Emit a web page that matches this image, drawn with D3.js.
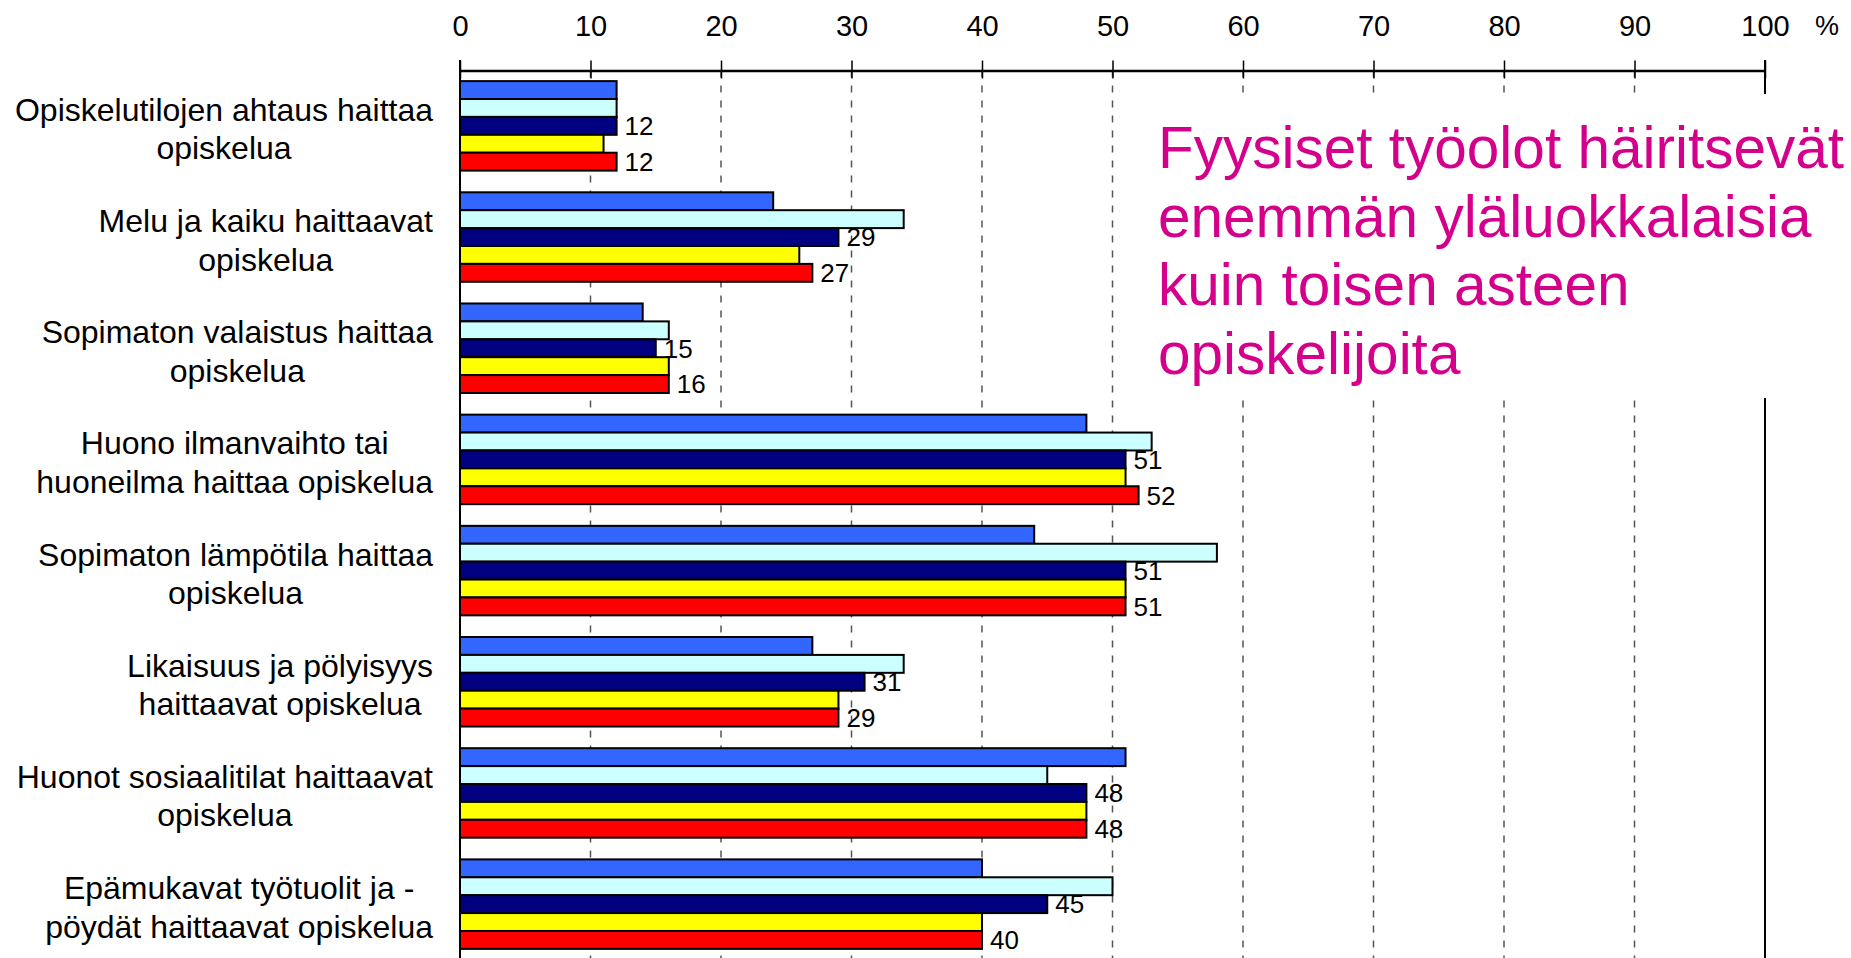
<!DOCTYPE html>
<html>
<head>
<meta charset="utf-8">
<script src="https://cdn.jsdelivr.net/npm/d3@7"></script>
<style>
  body { margin:0; background:#fff; }
  svg { display:block; font-family:"Liberation Sans", Arial, sans-serif; }
</style>
</head>
<body>
<svg id="chart" width="1851" height="958"></svg>
<script>
// categories, two lines each as in the original
var categories = [
  ["Opiskelutilojen ahtaus haittaa", "opiskelua"],
  ["Melu ja kaiku haittaavat", "opiskelua"],
  ["Sopimaton valaistus haittaa", "opiskelua"],
  ["Huono ilmanvaihto tai", "huoneilma haittaa opiskelua"],
  ["Sopimaton lämpötila haittaa", "opiskelua"],
  ["Likaisuus ja pölyisyys", "haittaavat opiskelua"],
  ["Huonot sosiaalitilat haittaavat", "opiskelua"],
  ["Epämukavat työtuolit ja -", "pöydät haittaavat opiskelua"]
];

var seriesNames = ["sarja1", "sarja2", "sarja3", "sarja4", "sarja5"];
var sarja1 = [12, 24, 14, 48, 44, 27, 51, 40];
var sarja2 = [12, 34, 16, 53, 58, 34, 45, 50];
var sarja3 = [12, 29, 15, 51, 51, 31, 48, 45];
var sarja4 = [11, 26, 16, 51, 51, 29, 48, 40];
var sarja5 = [12, 27, 16, 52, 51, 29, 48, 40];
var labelledSeries = ["sarja3", "sarja5"]; // only these carry value labels

var xTicks = [0, 10, 20, 30, 40, 50, 60, 70, 80, 90, 100];
var noteLines = ["Fyysiset työolot häiritsevät", "enemmän yläluokkalaisia",
  "kuin toisen asteen", "opiskelijoita"];

(function(){
  var svg = d3.select("#chart");
  var colors = ["#3366FF", "#CCFFFF", "#000080", "#FFFF00", "#FF0000"];
  var values = [sarja1, sarja2, sarja3, sarja4, sarja5];

  var axisY = 70.5, bottom = 958;
  var x = d3.scaleLinear().domain([0, 100]).range([460, 1765]);
  var y = d3.scaleBand().domain(d3.range(categories.length))
    .range([70, 960]).paddingInner(0.195).paddingOuter(0.1);
  var ys = d3.scaleBand().domain(seriesNames).range([0, y.bandwidth()]);

  // dashed gridlines
  svg.append("g").selectAll("line")
    .data(xTicks.filter(function(d){ return d > 0 && d < 100; }))
    .enter().append("line")
    .attr("x1", function(d){ return x(d); }).attr("x2", function(d){ return x(d); })
    .attr("y1", axisY).attr("y2", bottom)
    .attr("stroke", "#555").attr("stroke-width", 1.5)
    .attr("stroke-dasharray", "7,8");

  // solid lines at 0 and 100
  svg.append("g").selectAll("line")
    .data([0, 100]).enter().append("line")
    .attr("x1", function(d){ return x(d); }).attr("x2", function(d){ return x(d); })
    .attr("y1", 60).attr("y2", bottom)
    .attr("stroke", "#000").attr("stroke-width", 2);

  // top axis
  var ax = svg.append("g").attr("transform", "translate(0," + axisY + ")")
    .call(d3.axisTop(x).tickValues(xTicks).tickSize(10).tickPadding(25).tickSizeOuter(0));
  ax.select(".domain").attr("stroke", "#000").attr("stroke-width", 2.5);
  ax.selectAll(".tick line").attr("stroke", "#000").attr("stroke-width", 1.5).attr("y2", 8).attr("y1", -10);
  ax.selectAll(".tick text").attr("font-size", 29).attr("fill", "#000")
    .attr("font-family", "Liberation Sans, Arial, sans-serif");
  svg.append("text").attr("x", 1815).attr("y", 35).attr("font-size", 27).text("%");

  // bars
  var groups = svg.append("g").selectAll("g")
    .data(categories).enter().append("g")
    .attr("transform", function(d, i){ return "translate(0," + y(i) + ")"; });

  groups.each(function(cat, i){
    var g = d3.select(this);
    seriesNames.forEach(function(s, k){
      var v = values[k][i];
      g.append("rect")
        .attr("x", x(0)).attr("y", ys(s))
        .attr("width", x(v) - x(0)).attr("height", ys.bandwidth())
        .attr("fill", colors[k]).attr("stroke", "#000").attr("stroke-width", 2);
      if (labelledSeries.indexOf(s) >= 0) {
        g.append("text")
          .attr("x", x(v) + 8).attr("y", ys(s) + ys.bandwidth() / 2)
          .attr("dy", "0.36em").attr("font-size", 26).text(v);
      }
    });
  });

  // category labels: lines centred in a block whose right edge is at 433
  groups.each(function(cat, i){
    var g = d3.select(this);
    var c = y.bandwidth() / 2;
    var t = g.selectAll("text.cat").data(cat).enter().append("text")
      .attr("class", "cat").attr("font-size", 32)
      .attr("y", function(d, j){ return j == 0 ? c - 5 : c + 33.5; })
      .text(function(d){ return d; });
    var w = 0;
    t.each(function(){ w = Math.max(w, this.getComputedTextLength()); });
    t.attr("text-anchor", "middle").attr("x", 433 - w / 2);
  });

  // note with white backing
  svg.append("rect").attr("x", 1150).attr("y", 94).attr("width", 701).attr("height", 304).attr("fill", "#fff");
  svg.append("g").selectAll("text").data(noteLines).enter().append("text")
    .attr("x", 1158).attr("y", function(d, i){ return 168 + i * 68.5; })
    .attr("font-size", 58.5).attr("fill", "#D4008C")
    .text(function(d){ return d; });
})();
</script>
</body>
</html>
